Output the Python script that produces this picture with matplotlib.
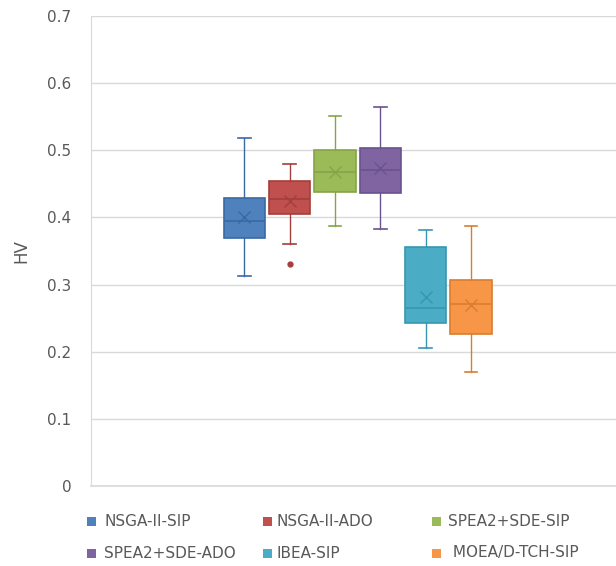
import matplotlib.pyplot as plt
from matplotlib.patches import Rectangle

# ---------------------------
# data
# ---------------------------
names = ["NSGA-II-SIP", "NSGA-II-ADO", "SPEA2+SDE-SIP",
         "SPEA2+SDE-ADO", "IBEA-SIP", "MOEA/D-TCH-SIP"]
whislo = [0.313, 0.360, 0.388, 0.383, 0.206, 0.170]
q1     = [0.369, 0.405, 0.438, 0.436, 0.243, 0.227]
med    = [0.395, 0.427, 0.468, 0.470, 0.265, 0.271]
q3     = [0.429, 0.455, 0.500, 0.504, 0.356, 0.307]
whishi = [0.518, 0.479, 0.551, 0.564, 0.382, 0.388]
means  = [0.400, 0.424, 0.467, 0.474, 0.281, 0.270]
fliers = [[], [0.330], [], [], [], []]

fill = ["#4f81bd", "#c0504d", "#9bbb59", "#8064a2", "#4bacc6", "#f79646"]
edge = ["#3a6aa6", "#a33f3c", "#86a448", "#6a5290", "#3897b0", "#d97d2e"]

# ---------------------------
# figure
# ---------------------------
fig = plt.figure(figsize=(6.16, 5.66), dpi=100)
ax = fig.add_axes([0.1477, 0.1413, 0.86, 0.8304])

grid_c = "#d9d9d9"
txt_c = "#595959"

for i in range(len(names)):
    st = dict(whislo=whislo[i], q1=q1[i], med=med[i], q3=q3[i],
              whishi=whishi[i], mean=means[i], fliers=fliers[i])
    ax.bxp([st], positions=[i], widths=0.91, capwidths=0.28,
           patch_artist=True, showmeans=True,
           boxprops=dict(facecolor=fill[i], edgecolor=edge[i], linewidth=1.2),
           medianprops=dict(color=edge[i], linewidth=1.2),
           whiskerprops=dict(color=edge[i], linewidth=1.0),
           capprops=dict(color=edge[i], linewidth=1.2),
           meanprops=dict(marker="x", markeredgecolor=edge[i], markersize=8,
                          markeredgewidth=1.0),
           flierprops=dict(marker="o", markerfacecolor=edge[i],
                           markeredgecolor=edge[i], markersize=3.5))

ax.set_xlim(-3.38, 8.3)
ax.set_ylim(0, 0.7)
ax.set_yticks([0, 0.1, 0.2, 0.3, 0.4, 0.5, 0.6, 0.7])
ax.set_yticklabels(["0", "0.1", "0.2", "0.3", "0.4", "0.5", "0.6", "0.7"])
ax.set_xticks([])
ax.yaxis.grid(True, color=grid_c, linewidth=1.0)
ax.axhline(0, color=grid_c, linewidth=1.2, clip_on=False, zorder=0)
ax.set_axisbelow(True)
for s in ["top", "right", "bottom"]:
    ax.spines[s].set_visible(False)
ax.spines["left"].set_color(grid_c)
ax.tick_params(axis="y", length=0, pad=14, labelsize=11, labelcolor=txt_c)
ax.set_ylabel("HV", fontsize=12, color=txt_c)
ax.yaxis.set_label_coords(-0.115, 0.5)

# legend, 3 per row like the original
sq_x = [91, 267, 436]
tx_x = [104, 277, 448]
row_y = [521, 553]
W, H = 616, 566
for i, n in enumerate(names):
    r, c = divmod(i, 3)
    fig.patches.append(Rectangle(((sq_x[c] - 4.5) / W, 1 - (row_y[r] + 4.5) / H),
                                 9 / W, 9 / H, transform=fig.transFigure,
                                 facecolor=fill[i], edgecolor="none"))
    label = n if i != 5 else " " + n
    fig.text(tx_x[c] / W, 1 - row_y[r] / H, label, fontsize=11,
             color=txt_c, va="center", ha="left")

fig.savefig("out.png", dpi=100)
